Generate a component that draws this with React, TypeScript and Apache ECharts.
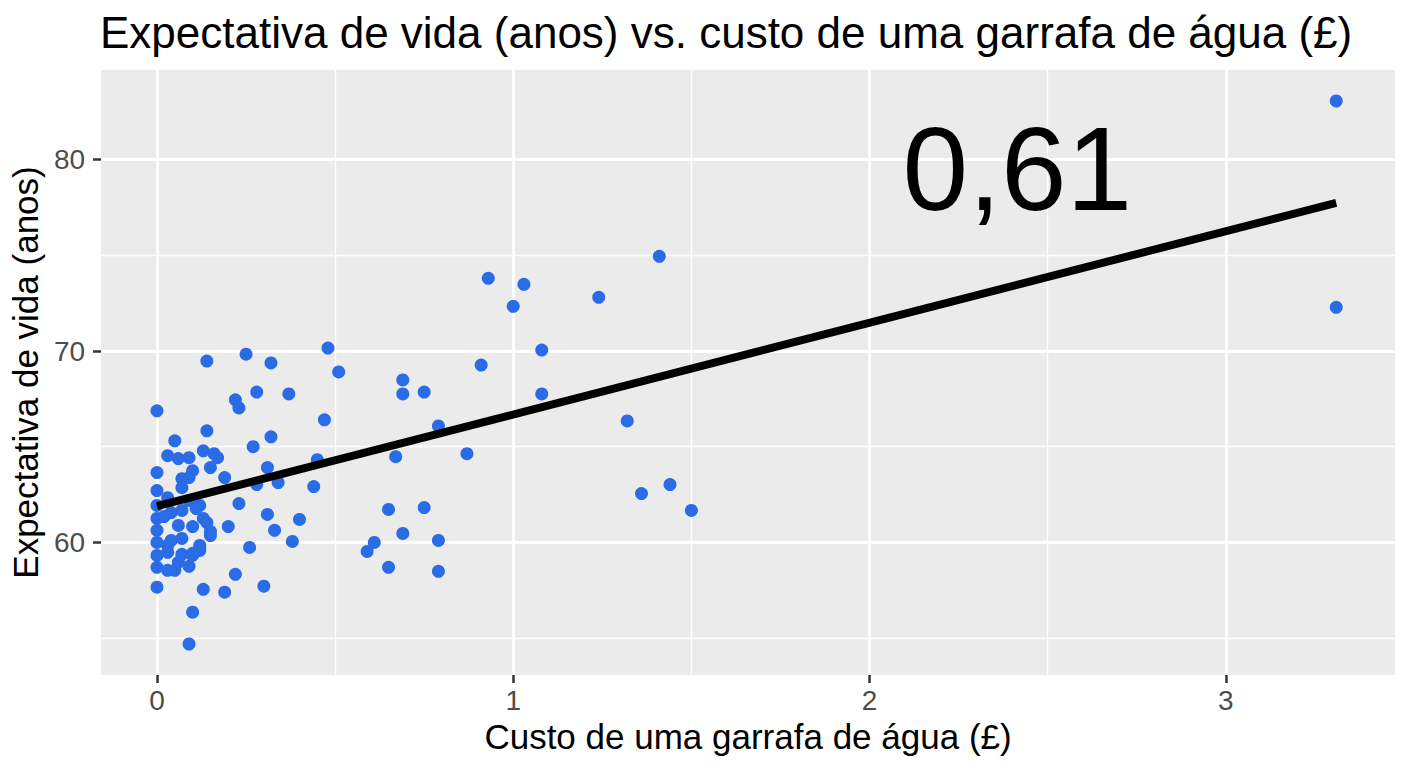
import { useEffect, useRef } from 'react';
import * as echarts from 'echarts';

// custo de uma garrafa de água (£) e expectativa de vida
const cost = [
  3.31, 3.31, 1.41, 0.93, 1.03, 1.0, 1.24, 1.08, 1.08, 0.91,
  1.32, 1.36, 1.44, 1.5, 0.48, 0.51, 0.37, 0.69, 0.69, 0.75,
  0.47, 0.79, 0.45, 0.67, 0.87, 0.34, 0.44, 0.4, 0.38, 0.65,
  0.75, 0.69, 0.79, 0.61, 0.59, 0.65, 0.79, 0.14, 0.25, 0.32,
  0.22, 0.23, 0.28, 0.14, 0.32, 0.27, 0.31, 0.28, 0.23, 0.31,
  0.33, 0.2, 0.26, 0.22, 0.13, 0.19, 0.3, 0.1, 0.09, 0.0,
  0.0, 0.05, 0.03, 0.06, 0.09, 0.13, 0.16, 0.17, 0.15, 0.19,
  0.0, 0.1, 0.09, 0.07, 0.07, 0.0, 0.03, 0.09, 0.12, 0.0,
  0.13, 0.15, 0.12, 0.0, 0.0, 0.0, 0.0, 0.0, 0.03, 0.05,
  0.09, 0.04, 0.07, 0.11, 0.06, 0.1, 0.14, 0.15, 0.04, 0.07,
  0.12, 0.03, 0.07, 0.1, 0.06, 0.02, 0.03, 0.12, 0.1,
];
const lifeExp = [
  83.07, 72.29, 74.95, 73.8, 73.49, 72.34, 72.81, 70.05, 67.76, 69.27,
  66.35, 62.55, 63.02, 61.67, 70.16, 68.91, 67.76, 68.49, 67.76, 67.86,
  66.41, 66.09, 64.32, 64.48, 64.64, 63.13, 62.92, 61.2, 60.05, 61.72,
  61.82, 60.47, 60.1, 60.0, 59.53, 58.7, 58.49, 69.48, 69.84, 69.38,
  67.45, 67.03, 67.86, 65.83, 65.52, 65.0, 63.91, 63.02, 62.03, 61.46,
  60.63, 60.83, 59.74, 58.33, 57.55, 57.4, 57.71, 56.35, 54.69, 57.66,
  66.88, 65.31, 64.53, 64.38, 64.43, 64.79, 64.64, 64.43, 63.91, 63.39,
  63.65, 63.75, 63.39, 63.33, 62.86, 62.71, 62.34, 62.19, 61.93, 61.93,
  61.25, 60.36, 59.69, 61.25, 60.63, 60.0, 59.32, 58.7, 58.54, 58.54,
  58.75, 61.56, 61.67, 61.77, 60.89, 60.83, 61.04, 60.57, 60.1, 60.21,
  59.84, 59.48, 59.38, 59.43, 58.96, 61.35, 59.84, 59.58, 59.32,
];

// reta de regressão
const fitX = [0, 3.31];
const fitY = [61.9, 77.75];

// anotação com a correlação
const annotX = [2.415];
const annotY = [79.5];
const annotText = '0,61';

const xTicks = [0, 1, 2, 3];
const yTicks = [60, 70, 80];

const X_MIN = -0.157;
const X_MAX = 3.475;
const Y_MIN = 53.07;
const Y_MAX = 84.69;

const FONT = '"Liberation Sans", Arial, sans-serif';

const App: React.FC = () => {
  const chartRef = useRef<HTMLDivElement | null>(null);

  useEffect(() => {
    document.body.style.margin = '0';
    if (!chartRef.current) return;
    const chart = echarts.init(chartRef.current, null, { renderer: 'svg' });

    // eixos só para as linhas de grade (sem rótulos nem marcas)
    const hidden = {
      axisLine: { show: false, onZero: false },
      axisTick: { show: false },
      axisLabel: { show: false },
    };
    const gridLine = (width: number) => ({
      show: true,
      showMinLine: false,
      showMaxLine: false,
      lineStyle: { color: '#ffffff', width },
    });
    const tickStyle = { show: true, length: 8, lineStyle: { color: '#333333', width: 2.5 } };

    const option = {
      animation: false,
      backgroundColor: '#ffffff',
      textStyle: { fontFamily: FONT },
      title: {
        text: 'Expectativa de vida (anos) vs. custo de uma garrafa de água (£)',
        left: 95,
        top: 5,
        textStyle: { fontFamily: FONT, fontSize: 44, fontWeight: 'normal', color: '#000' },
      },
      grid: {
        left: 100, right: 13, top: 70, bottom: 93,
        show: true, backgroundColor: '#EBEBEB', borderWidth: 0,
      },
      xAxis: [
        {
          type: 'value', min: X_MIN, max: X_MAX, minInterval: 0.5, maxInterval: 0.5,
          ...hidden,
          splitLine: gridLine(1.3),
        },
        {
          type: 'value', min: X_MIN, max: X_MAX, minInterval: 1, maxInterval: 1,
          ...hidden,
          splitLine: gridLine(2.8),
        },
        {
          type: 'value', min: X_MIN, max: X_MAX, position: 'bottom',
          axisLine: { show: false, onZero: false },
          splitLine: { show: false },
          axisTick: { ...tickStyle, customValues: xTicks },
          axisLabel: {
            customValues: xTicks, fontSize: 28, color: '#4D4D4D', margin: 11, fontFamily: FONT,
            formatter: (v: number) => String(v),
          },
          name: 'Custo de uma garrafa de água (£)',
          nameLocation: 'middle',
          nameGap: 44,
          nameTextStyle: { fontSize: 35, color: '#000', fontFamily: FONT },
        },
      ],
      yAxis: [
        {
          type: 'value', min: Y_MIN, max: Y_MAX, minInterval: 5, maxInterval: 5,
          ...hidden,
          splitLine: gridLine(1.3),
        },
        {
          type: 'value', min: Y_MIN, max: Y_MAX, minInterval: 10, maxInterval: 10,
          ...hidden,
          splitLine: gridLine(2.8),
        },
        {
          type: 'value', min: Y_MIN, max: Y_MAX, position: 'left',
          axisLine: { show: false, onZero: false },
          splitLine: { show: false },
          axisTick: { ...tickStyle, customValues: yTicks },
          axisLabel: {
            customValues: yTicks, fontSize: 28, color: '#4D4D4D', margin: 16, fontFamily: FONT,
            formatter: (v: number) => String(v),
          },
          name: 'Expectativa de vida (anos)',
          nameLocation: 'middle',
          nameGap: 52,
          nameTextStyle: { fontSize: 35, color: '#000', fontFamily: FONT },
        },
      ],
      series: [
        {
          type: 'scatter',
          xAxisIndex: 0,
          yAxisIndex: 0,
          symbolSize: 13,
          itemStyle: { color: '#2A6BE6', opacity: 1 },
          data: cost.map((c, i) => [c, lifeExp[i]]),
          z: 3,
        },
        {
          type: 'line',
          xAxisIndex: 0,
          yAxisIndex: 0,
          symbol: 'none',
          lineStyle: { color: '#000000', width: 8, cap: 'butt' },
          data: fitX.map((x, i) => [x, fitY[i]]),
          z: 4,
        },
        {
          type: 'scatter',
          xAxisIndex: 0,
          yAxisIndex: 0,
          symbolSize: 1,
          itemStyle: { color: 'transparent' },
          label: {
            show: true,
            position: 'inside',
            formatter: () => annotText,
            fontSize: 118,
            color: '#000000',
            opacity: 1,
            textBorderWidth: 0,
            fontFamily: FONT,
          },
          data: annotX.map((x, i) => [x, annotY[i]]),
          z: 5,
        },
      ],
    };

    chart.setOption(option);
    return () => {
      chart.dispose();
    };
  }, []);

  return (
    <div
      ref={chartRef}
      style={{ position: 'absolute', left: 0, top: 0, width: 1408, height: 768 }}
    />
  );
};

export default App;
